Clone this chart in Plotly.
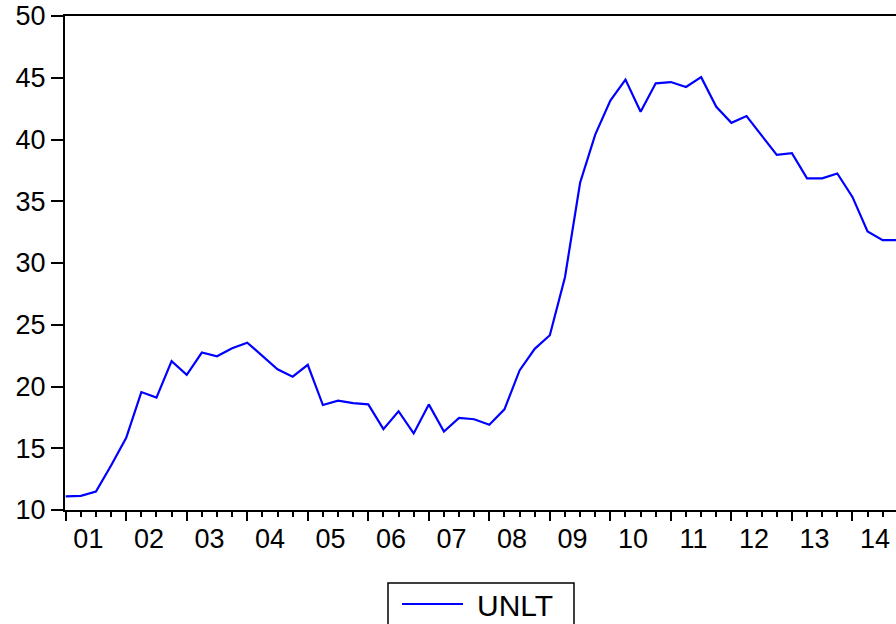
import plotly.graph_objects as go

# Quarterly series 2001Q1 .. 2014Q4
series_name = "UNLT"
unlt = [11.1, 11.15, 11.5, 13.6, 15.85, 19.55, 19.1, 22.05, 20.95, 22.75,
        22.45, 23.1, 23.55, 22.45, 21.4, 20.8, 21.75, 18.5, 18.85, 18.65,
        18.55, 16.55, 18.0, 16.2, 18.55, 16.35, 17.45, 17.35, 16.9, 18.15,
        21.3, 23.05, 24.15, 28.85, 36.5, 40.4, 43.15, 44.85, 42.25, 44.55,
        44.65, 44.25, 45.05, 42.65, 41.35, 41.9, 40.35, 38.75, 38.9, 36.85,
        36.85, 37.25, 35.35, 32.55, 31.85, 31.85]
year_labels = ["01", "02", "03", "04", "05", "06", "07", "08", "09", "10",
               "11", "12", "13", "14"]
y_ticks = [10, 15, 20, 25, 30, 35, 40, 45, 50]

x = list(range(len(unlt)))
year_starts = [4 * k for k in range(len(year_labels))]
year_centers = [4 * k + 1.5 for k in range(len(year_labels))]

FONT = "Liberation Sans, Arial, sans-serif"
xr = [-0.046, 54.88]

fig = go.Figure()
fig.add_trace(go.Scatter(x=x, y=unlt, mode="lines", name=series_name,
                         line=dict(color="#0000ff", width=2.2),
                         showlegend=False))

fig.update_layout(
    width=896, height=624,
    margin=dict(l=65, r=0, t=16, b=114),
    paper_bgcolor="white", plot_bgcolor="white",
    font=dict(family=FONT, size=27, color="black"),
    xaxis=dict(range=xr, tickmode="array", tickvals=year_centers,
               ticktext=year_labels, ticks="", showgrid=False, zeroline=False,
               showline=True, linecolor="black", linewidth=2, mirror=True,
               ticklabelstandoff=4, ticklabeloverflow="allow",
               tickfont=dict(family=FONT, size=27, color="black"),
               minor=dict(dtick=1, tick0=0, ticks="outside", ticklen=5,
                          tickwidth=2, tickcolor="black", showgrid=False)),
    xaxis2=dict(range=xr, overlaying="x", anchor="y", side="bottom",
                tickmode="array", tickvals=year_starts, ticks="outside",
                ticklen=10, tickwidth=2, tickcolor="black",
                showticklabels=False, showgrid=False, zeroline=False,
                showline=False),
    yaxis=dict(range=[10, 50], tickmode="array", tickvals=y_ticks,
               ticks="outside", ticklen=12, tickwidth=2, tickcolor="black",
               showgrid=False, zeroline=False, showline=True,
               linecolor="black", linewidth=2, mirror=False,
               ticklabeloverflow="allow",
               tickfont=dict(family=FONT, size=27, color="black")),
)

# invisible trace to make the overlay axis active
fig.add_trace(go.Scatter(x=[xr[0]], y=[10], xaxis="x2", mode="markers",
                         marker=dict(opacity=0), showlegend=False,
                         hoverinfo="skip"))

# legend box drawn below the plot (page pixel -> paper)
def px(xp):
    return (xp - 65) / 831.0

def py(yp):
    return (510 - yp) / 494.0

fig.add_shape(type="rect", xref="paper", yref="paper",
              x0=px(388), x1=px(574), y0=py(640), y1=py(583),
              line=dict(color="black", width=1.5), fillcolor="rgba(0,0,0,0)")
fig.add_shape(type="line", xref="paper", yref="paper",
              x0=px(402), x1=px(463), y0=py(604), y1=py(604),
              line=dict(color="#0000ff", width=2))
fig.add_annotation(xref="paper", yref="paper", x=px(475), y=py(605),
                   xanchor="left", yanchor="middle", showarrow=False,
                   text=series_name,
                   font=dict(family=FONT, size=30, color="black"))

fig.write_html(
    "out.html",
    config={"displayModeBar": False},
    post_script="document.body.style.margin='0';"
                "document.body.style.overflow='hidden';",
)
